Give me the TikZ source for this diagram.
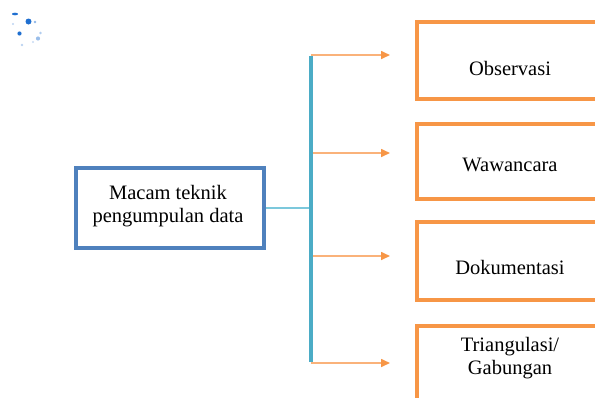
\documentclass[tikz,border=0pt]{standalone}
\usepackage{fontspec}
\setmainfont{Liberation Serif}
\usetikzlibrary{arrows.meta}
\definecolor{boxblue}{HTML}{4F81BD}
\definecolor{barteal}{HTML}{4BACC6}
\definecolor{linkcyan}{HTML}{7CC8DC}
\definecolor{boxorange}{HTML}{F79646}
\definecolor{lineorange}{HTML}{FAB27A}
\definecolor{dotblue}{HTML}{1F6FD0}
\tikzset{
  mainbox/.style={draw=boxblue, line width=4pt, fill=white},
  itembox/.style={draw=boxorange, line width=4pt, fill=white},
  txt/.style={font=\fontsize{20.5}{23.5}\selectfont, align=center, inner sep=0pt},
  branch/.style={draw=lineorange, line width=1.6pt, -{Triangle[length=9pt,width=8pt,fill=boxorange,color=boxorange]}},
  bar/.style={draw=barteal, line width=3.5pt},
  link/.style={draw=linkcyan, line width=2pt},
  dot/.style={fill=dotblue, draw=none}
}
\begin{document}
\begin{tikzpicture}[x=1pt,y=-1pt]
\useasboundingbox (0,0) rectangle (595,397);
\clip (0,0) rectangle (595,397);
% decorative dots
\fill[dot] (15,14) ellipse (3 and 1.3);
\fill[dot] (28.5,21.5) circle (3);
\fill[dot,opacity=0.5] (35,22) circle (1.4);
\fill[dot] (19.5,33.5) circle (2.1);
\fill[dot,opacity=0.45] (38,38.5) circle (2.1);
\fill[dot,opacity=0.35] (40.5,33) circle (1.4);
\fill[dot,opacity=0.3] (22,45) circle (1.3);
\fill[dot,opacity=0.3] (13,24) circle (1.1);
\fill[dot,opacity=0.25] (33,42) circle (1.1);
% main box
\node[mainbox, minimum width=188pt, minimum height=80pt, anchor=north west] (main) at (74,166) {};
\node[txt] (maint) at (168,206) {Macam teknik\\pengumpulan data};
% item boxes
\node[itembox, minimum width=200pt, minimum height=77pt, anchor=north west] (b1) at (415,20) {};
\node[itembox, minimum width=200pt, minimum height=75pt, anchor=north west] (b2) at (415,122) {};
\node[itembox, minimum width=200pt, minimum height=78pt, anchor=north west] (b3) at (415,220) {};
\node[itembox, minimum width=200pt, minimum height=100pt, anchor=north west] (b4) at (415,324) {};
\node[txt] (t1) at (510,68) {Observasi};
\node[txt] (t2) at (510,165) {Wawancara};
\node[txt] (t3) at (510,267) {Dokumentasi};
\node[txt] (t4) at (510,358) {Triangulasi/\\Gabungan};
% bar coordinates
\coordinate (j) at (311,206);
\coordinate (p1) at (311,55);
\coordinate (p2) at (311,153);
\coordinate (p3) at (311,256);
\coordinate (p4) at (311,363);
\coordinate (e1) at (390,55);
\coordinate (e2) at (390,153);
\coordinate (e3) at (390,256);
\coordinate (e4) at (390,363);
\draw[link] (main.east) -- (main.east -| j);
\draw[branch] (p1) -- (e1);
\draw[branch] (p2) -- (e2);
\draw[branch] (p3) -- (e3);
\draw[branch] (p4) -- (e4);
\draw[bar] ([yshift=-1pt]p1) -- ([yshift=1pt]p4);
\end{tikzpicture}
\end{document}
